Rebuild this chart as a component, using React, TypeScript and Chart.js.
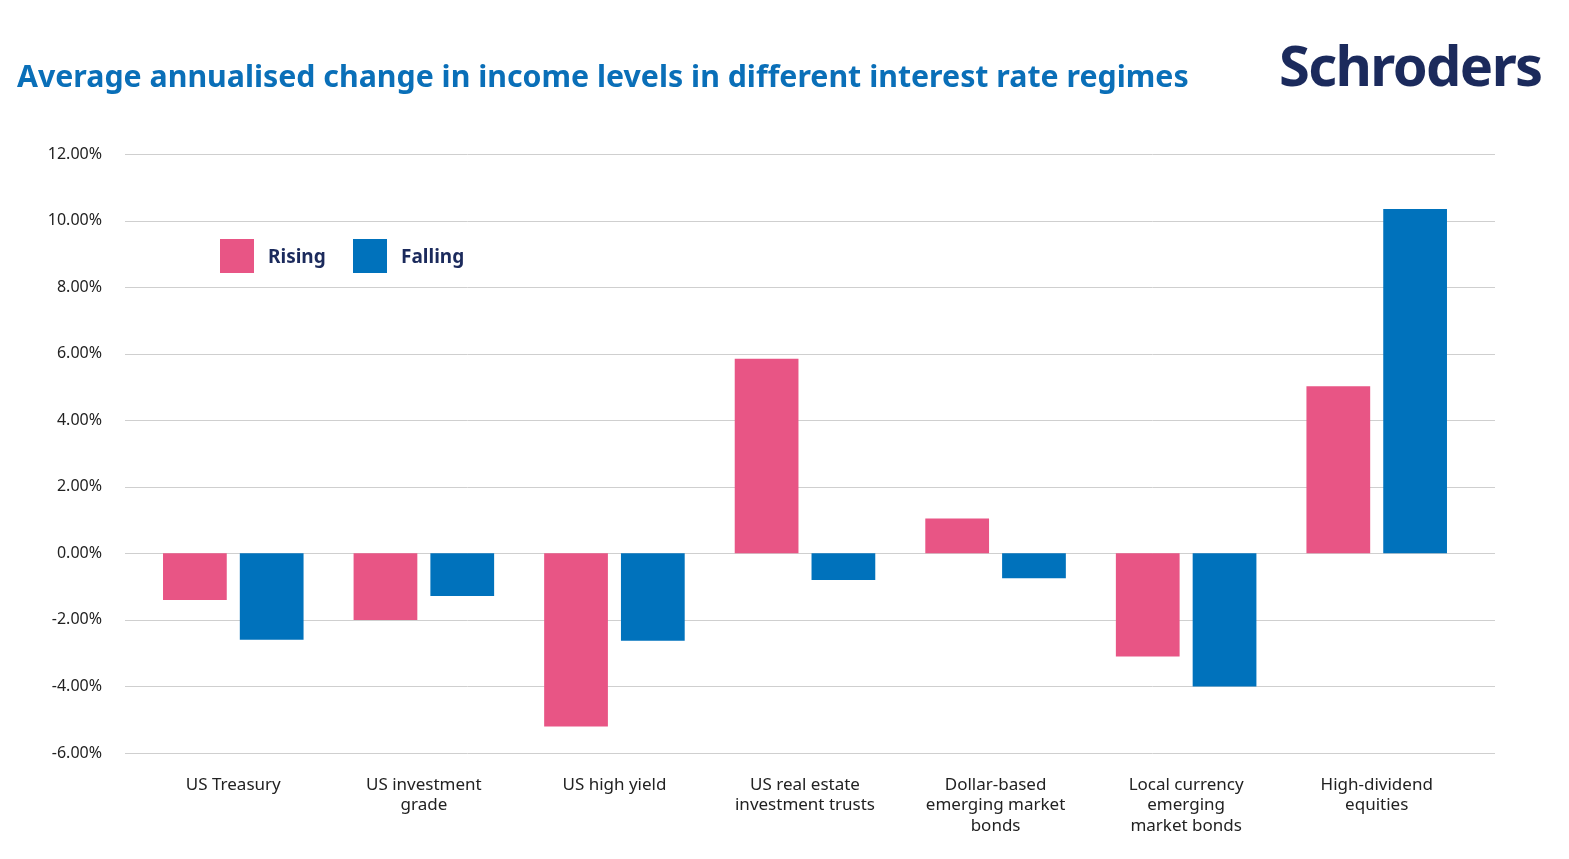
import React, { useEffect, useRef } from "react";
import { Chart, registerables } from "chart.js";
Chart.register(...registerables);

const categories = [
  ["US Treasury"],
  ["US investment", "grade"],
  ["US high yield"],
  ["US real estate", "investment trusts"],
  ["Dollar-based", "emerging market", "bonds"],
  ["Local currency", "emerging", "market bonds"],
  ["High-dividend", "equities"],
];
const rising = [-1.4, -2.0, -5.2, 5.85, 1.05, -3.1, 5.02];
const falling = [-2.6, -1.28, -2.63, -0.8, -0.75, -4.0, 10.35];
const PINK = "#e85585";
const BLUE = "#0072bc";
const NAVY = "#1b2a5c";

const gridPlugin = {
  id: "wideGrid",
  beforeDatasetsDraw(chart: any) {
    const y = chart.scales.y;
    const ctx = chart.ctx;
    ctx.save();
    ctx.strokeStyle = "#cfcfcf";
    ctx.lineWidth = 1;
    y.ticks.forEach((t: any) => {
      const py = Math.round(y.getPixelForValue(t.value)) + 0.5;
      ctx.beginPath();
      ctx.moveTo(125, py);
      ctx.lineTo(1495, py);
      ctx.stroke();
    });
    ctx.restore();
  },
};

export default function App() {
  const ref = useRef<HTMLCanvasElement>(null);
  useEffect(() => {
    document.body.style.margin = "0";
    const c = new Chart(ref.current!, {
      type: "bar",
      data: {
        labels: categories as any,
        datasets: [
          { label: "Rising", data: rising, backgroundColor: PINK },
          { label: "Falling", data: falling, backgroundColor: BLUE },
        ],
      },
      plugins: [gridPlugin],
      options: {
        animation: false,
        responsive: false,
        maintainAspectRatio: false,
        layout: { padding: { top: 154, left: 0, right: 97, bottom: 0 } },
        plugins: { legend: { display: false }, tooltip: { enabled: false } },
        datasets: { bar: { barPercentage: 0.83, categoryPercentage: 0.806 } } as any,
        scales: {
          x: {
            grid: { display: false },
            border: { display: false },
            ticks: { color: "#222", font: { family: "Noto Sans", size: 17 }, padding: 14, maxRotation: 0 },
            afterFit: (s: any) => { s.height = 106; },
          },
          y: {
            min: -6,
            max: 12,
            grid: { display: false },
            border: { display: false },
            ticks: {
              stepSize: 2,
              color: "#222",
              padding: 28,
              font: { family: "Noto Sans", size: 16 },
              callback: (v: any) => Number(v).toFixed(2) + "%",
            },
            afterFit: (s: any) => { s.width = 138; },
          },
        },
      },
    });
    return () => c.destroy();
  }, []);
  const legendItem = (x: number, color: string, text: string) => (
    <div style={{ position: "absolute", left: x, top: 239, display: "flex", alignItems: "center" }}>
      <div style={{ width: 34, height: 34, background: color }} />
      <span style={{ marginLeft: 14, fontFamily: "Noto Sans", fontWeight: 700, fontSize: 19, color: NAVY }}>{text}</span>
    </div>
  );
  return (
    <div style={{ position: "relative", width: 1569, height: 859, background: "#fff", overflow: "hidden" }}>
      <canvas ref={ref} width={1569} height={859} style={{ position: "absolute", left: 0, top: 0 }} />
      <div style={{ position: "absolute", left: 17, top: 55, fontFamily: "Noto Sans", fontWeight: 700, fontSize: 30.3, color: "#0a6fb8" }}>
        Average annualised change in income levels in different interest rate regimes
      </div>
      <div style={{ position: "absolute", left: 1279, top: 26, fontFamily: "Noto Sans", fontWeight: 700, fontSize: 56, color: NAVY, letterSpacing: -1.6 }}>
        Schroders
      </div>
      {legendItem(220, PINK, "Rising")}
      {legendItem(353, BLUE, "Falling")}
    </div>
  );
}
